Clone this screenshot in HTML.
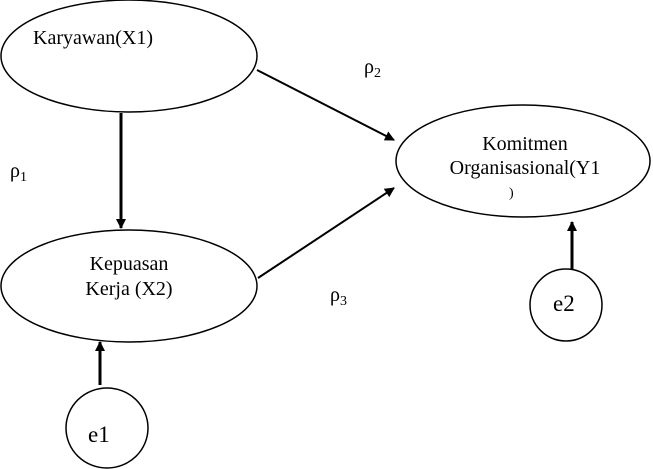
<!DOCTYPE html>
<html><head><style>body{margin:0;background:#fff}svg{display:block}</style></head><body>
<svg width="653" height="469" xmlns="http://www.w3.org/2000/svg" style="font-family:'Liberation Serif',serif" fill="none" stroke="#000">
<defs><marker id="a" markerWidth="10" markerHeight="10" refX="9" refY="5" orient="auto" markerUnits="userSpaceOnUse"><path d="M0,0 L10,5 L0,10 z" fill="#000" stroke="none"/></marker></defs>
<ellipse cx="129" cy="56" rx="128" ry="56" stroke-width="1.5"/>
<ellipse cx="129" cy="286" rx="128" ry="56" stroke-width="1.5"/>
<ellipse cx="523" cy="161" rx="127" ry="56" stroke-width="1.5"/>
<circle cx="566" cy="305" r="36" stroke-width="1.5"/>
<ellipse cx="107" cy="428" rx="41" ry="40" stroke-width="1.5"/>
<line x1="121" y1="113" x2="121" y2="228" stroke-width="3" marker-end="url(#a)"/>
<line x1="257" y1="70" x2="394" y2="140" stroke-width="2" marker-end="url(#a)"/>
<line x1="258" y1="278" x2="394" y2="188" stroke-width="2" marker-end="url(#a)"/>
<line x1="572" y1="269" x2="572" y2="222" stroke-width="3" marker-end="url(#a)"/>
<line x1="100" y1="385" x2="100" y2="342" stroke-width="3" marker-end="url(#a)"/>
<g fill="#000" stroke="none" font-size="20">
<text x="33" y="44" textLength="120" lengthAdjust="spacingAndGlyphs">Karyawan(X1)</text>
<text x="129" y="270" text-anchor="middle">Kepuasan</text>
<text x="129" y="295" text-anchor="middle">Kerja (X2)</text>
<text x="525" y="150" text-anchor="middle">Komitmen</text>
<text x="525" y="174" text-anchor="middle">Organisasional(Y1</text>
<text x="509" y="197" font-size="14">)</text>
<text x="553" y="311" font-size="23">e2</text>
<text x="88" y="442" font-size="23">e1</text>
<text x="364" y="73">ρ<tspan font-size="14" dy="4">2</tspan></text>
<text x="10" y="177">ρ<tspan font-size="14" dy="4">1</tspan></text>
<text x="330" y="301">ρ<tspan font-size="14" dy="4">3</tspan></text>
</g>
</svg>
</body></html>
